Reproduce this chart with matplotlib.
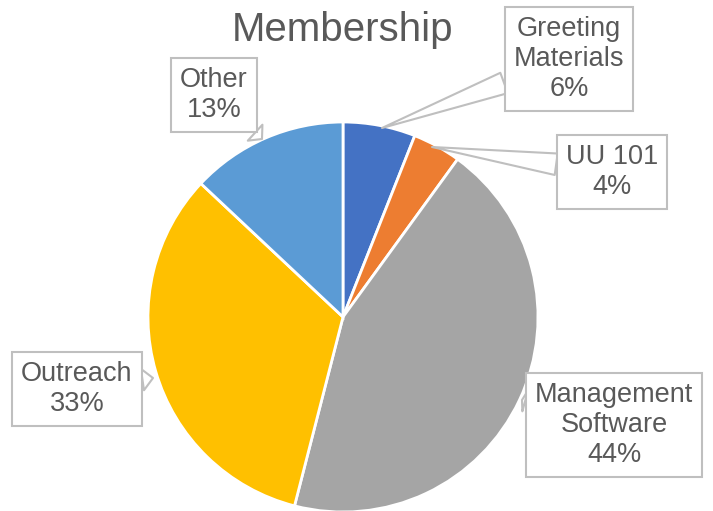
import matplotlib
matplotlib.use("Agg")
import matplotlib.pyplot as plt

labels = ["Greeting\nMaterials", "UU 101", "Management\nSoftware", "Outreach", "Other"]
shares = [6, 4, 44, 33, 13]
colors = ["#4472C4", "#ED7D31", "#A5A5A5", "#FFC000", "#5B9BD5"]

# callout box centres and wedge tips, in pixels from the top-left corner
box_px = [(569, 59), (612, 172), (614, 425), (77, 389), (214, 95)]
tip_px = [(382, 128), (432, 147), (522, 400), (153, 378), (262, 139)]

W, H = 713, 511
CX, CY, R = 343, 317, 195

plt.rcParams["font.family"] = ["Liberation Sans", "DejaVu Sans"]

fig = plt.figure(figsize=(W / 100, H / 100), dpi=100)
ax = fig.add_axes([0, 0, 1, 1])
ax.pie(shares, colors=colors, startangle=90, counterclock=False, radius=1,
       wedgeprops=dict(edgecolor="white", linewidth=2))
ax.set_aspect("auto")
ax.set_xlim(-CX / R, (W - CX) / R)
ax.set_ylim(-(H - CY) / R, CY / R)
ax.axis("off")


def to_data(p):
    return ((p[0] - CX) / R, (CY - p[1]) / R)


for lab, val, bp, tp in zip(labels, shares, box_px, tip_px):
    ax.annotate(f"{lab}\n{val}%", xy=to_data(tp), xytext=to_data(bp),
                ha="center", va="center", fontsize=19.5, color="#595959",
                linespacing=1.2,
                bbox=dict(boxstyle="square,pad=0.33", fc="white", ec="#BFBFBF", lw=1.5),
                arrowprops=dict(arrowstyle="wedge,tail_width=0.8,shrink_factor=0.5",
                                fc="white", ec="#BFBFBF", lw=1.5, shrinkA=0, shrinkB=0))

ax.text(*to_data((343, 30)), "Membership", ha="center", va="center",
        fontsize=29, color="#595959")

fig.savefig("out.png", dpi=100)
